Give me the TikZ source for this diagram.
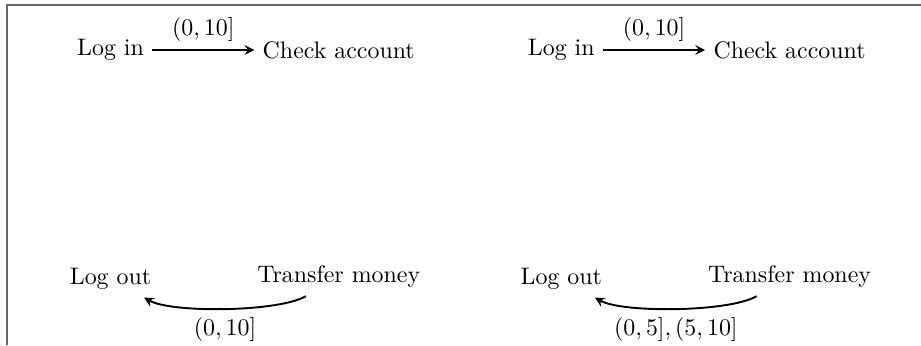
\documentclass[tikz,border=0pt]{standalone}
\usetikzlibrary{arrows}
\usetikzlibrary{positioning}

\begin{document}
\begin{tikzpicture}[>=stealth, trans/.style={->, thick}, frameline/.style={draw=black!60, line width=0.8pt}]
		\useasboundingbox (-1.625,-4.34) rectangle (11.92,0.735);
		\draw[frameline] (-1.518,-4.34) -- (-1.518,0.662) -- (11.92,0.662);

		% one run of the session
		\node (login) at (0,0) {Log in};
		\node (check) [right=1.5cm of login] {Check account};
		\node (logout) [below=2.8cm of login] {Log out};
		\node (transfer) [below=2.8cm of check] {Transfer money};
		\draw[trans] (login) -- node[above] {$(0,10]$} (check);
		\draw[trans] (transfer) to[bend left, looseness=0.5] node[below] {$(0,10]$} (logout);

		% split interval
		\begin{scope}[xshift=6.63cm]
		\node (loginb) at (0,0) {Log in};
		\node (checkb) [right=1.5cm of loginb] {Check account};
		\node (logoutb) [below=2.8cm of loginb] {Log out};
		\node (transferb) [below=2.8cm of checkb] {Transfer money};
		\draw[trans] (loginb) -- node[above] {$(0,10]$} (checkb);
		\draw[trans] (transferb) to[bend left, looseness=0.5] node[below] {$(0,5],(5,10]$} (logoutb);
		\end{scope}
	\end{tikzpicture}
\end{document}
